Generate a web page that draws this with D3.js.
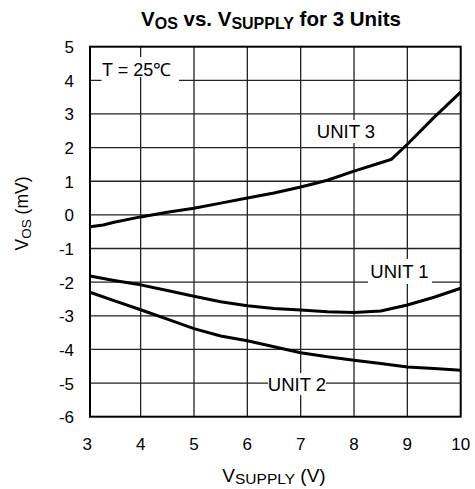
<!DOCTYPE html>
<html><head><meta charset="utf-8">
<script src="https://cdn.jsdelivr.net/npm/d3@7"></script>
<style>body{margin:0;background:#fff}svg{display:block}text{font-family:"Liberation Sans",Arial,sans-serif;fill:#000}</style>
</head><body><svg id="c" width="475" height="489"></svg>
<script>
const xTicks = [3,4,5,6,7,8,9,10];
const yTicks = [5,4,3,2,1,0,-1,-2,-3,-4,-5,-6];
const unit3X = [3.05,3.3,3.5,4.0,4.5,5.0,5.5,6.0,6.5,7.0,7.3,7.5,8.0,8.5,8.7,9.0,9.5,10.0];
const unit3Y = [-0.35,-0.3,-0.22,-0.06,0.08,0.2,0.35,0.5,0.65,0.83,0.95,1.03,1.3,1.55,1.65,2.1,2.9,3.65];
const unit1X = [3.05,3.5,4.0,4.5,5.0,5.5,6.0,6.5,7.0,7.5,8.0,8.5,9.0,9.5,10.0];
const unit1Y = [-1.82,-1.95,-2.08,-2.25,-2.42,-2.58,-2.7,-2.78,-2.83,-2.88,-2.9,-2.86,-2.68,-2.45,-2.18];
const unit2X = [3.05,3.5,4.0,4.5,5.0,5.5,6.0,6.5,7.0,7.5,8.0,8.5,9.0,9.5,10.0];
const unit2Y = [-2.3,-2.55,-2.82,-3.1,-3.38,-3.6,-3.74,-3.92,-4.1,-4.22,-4.32,-4.42,-4.52,-4.57,-4.62];

const svg = d3.select('#c');
const x = d3.scaleLinear().domain([3,10]).range([87.3,460.7]);
const y = d3.scaleLinear().domain([-6,5]).range([416.7,46.7]);
const L = 90, R = 460.7, T = 46.7, B = 416.7;

const g = svg.append('g');
g.selectAll('line.h').data(yTicks.slice(1,-1)).join('line')
  .attr('x1',L).attr('x2',R).attr('y1',d=>y(d)).attr('y2',d=>y(d))
  .attr('stroke','#222').attr('stroke-width',1.3);
g.append('line').attr('x1',101.5).attr('x2',179).attr('y1',y(4)).attr('y2',y(4))
  .attr('stroke','#fff').attr('stroke-width',3);
g.selectAll('line.v').data(xTicks.slice(1,-1)).join('line')
  .attr('y1',T).attr('y2',B).attr('x1',d=>x(d)).attr('x2',d=>x(d))
  .attr('stroke','#222').attr('stroke-width',1.3);

const boxes = [[101.5,57,77.5,20],[314,120,64,23],[368,259,64,25],[268,373,58,22]];
g.selectAll('rect.b').data(boxes).join('rect')
  .attr('x',d=>d[0]).attr('y',d=>d[1]).attr('width',d=>d[2]).attr('height',d=>d[3]).attr('fill','#fff');

const line = d3.line().x(d=>x(d[0])).y(d=>y(d[1]));
[[unit3X,unit3Y],[unit1X,unit1Y],[unit2X,unit2Y]].forEach(([xs,ys])=>{
  g.append('path').datum(xs.map((v,i)=>[v,ys[i]])).attr('d',line)
    .attr('fill','none').attr('stroke','#000').attr('stroke-width',3).attr('stroke-linejoin','round');
});

g.append('rect').attr('x',L).attr('y',T).attr('width',R-L).attr('height',B-T)
  .attr('fill','none').attr('stroke','#000').attr('stroke-width',2);

svg.selectAll('text.yt').data(yTicks).join('text')
  .attr('x',74).attr('y',d=>y(d)+6.5).attr('text-anchor','end').attr('font-size',17).text(d=>d);
svg.selectAll('text.xt').data(xTicks).join('text')
  .attr('x',d=>x(d)).attr('y',450).attr('text-anchor','middle').attr('font-size',17).text(d=>d);

svg.append('text').attr('x',102).attr('y',76).attr('font-size',18).text('T = 25℃');
svg.append('text').attr('x',346).attr('y',138.3).attr('text-anchor','middle').attr('font-size',18.5).text('UNIT 3');
svg.append('text').attr('x',399.5).attr('y',278.3).attr('text-anchor','middle').attr('font-size',18.5).text('UNIT 1');
svg.append('text').attr('x',297).attr('y',390.7).attr('text-anchor','middle').attr('font-size',18.5).text('UNIT 2');

const t = svg.append('text').attr('x',271).attr('y',26).attr('text-anchor','middle')
  .attr('font-size',20.5).attr('font-weight','bold');
t.append('tspan').text('V');
t.append('tspan').attr('font-size',16).attr('dy',3).text('OS');
t.append('tspan').attr('dy',-3).text(' vs. V');
t.append('tspan').attr('font-size',16).attr('dy',3).text('SUPPLY');
t.append('tspan').attr('dy',-3).text(' for 3 Units');

const xl = svg.append('text').attr('x',274).attr('y',481.7).attr('text-anchor','middle').attr('font-size',19);
xl.append('tspan').text('V');
xl.append('tspan').attr('font-size',15.5).attr('dy',2.5).text('SUPPLY');
xl.append('tspan').attr('dy',-2.5).text(' (V)');

const yl = svg.append('text').attr('transform','translate(28,213.5) rotate(-90)').attr('text-anchor','middle').attr('font-size',17.5);
yl.append('tspan').text('V');
yl.append('tspan').attr('font-size',13.5).attr('dy',2.5).text('OS');
yl.append('tspan').attr('dy',-2.5).text(' (mV)');
</script></body></html>
